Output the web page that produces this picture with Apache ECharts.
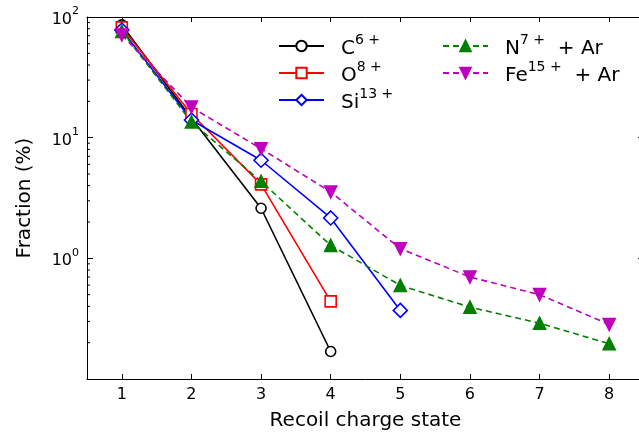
<!DOCTYPE html>
<html>
<head>
<meta charset="utf-8">
<script src="https://cdn.jsdelivr.net/npm/echarts@6/dist/echarts.min.js"></script>
<style>html,body{margin:0;padding:0;background:#fff;overflow:hidden}#c{width:660px;height:439px}</style>
</head>
<body>
<div id="c"></div>
<script>
// ---- data ----
const chargeStates = [1, 2, 3, 4, 5, 6, 7, 8];
const seriesNames = ['C6+', 'O8+', 'Si13+', 'N7+ + Ar', 'Fe15+ + Ar'];
const cVals  = [86, 14.5, 2.6, 0.169];
const oVals  = [82, 15.7, 4.1, 0.44];
const siVals = [78, 14.0, 6.5, 2.16, 0.37];
const nVals  = [76, 13.5, 4.35, 1.28, 0.597, 0.394, 0.29, 0.196];
const feVals = [71, 17.9, 8.1, 3.55, 1.20, 0.70, 0.50, 0.283];
const xTicks = [1, 2, 3, 4, 5, 6, 7, 8];
const yMajorTicks = [0.1, 1, 10, 100];
const yMinorTicks = [0.2,0.3,0.4,0.5,0.6,0.7,0.8,0.9,2,3,4,5,6,7,8,9,20,30,40,50,60,70,80,90];

const FONT = 'DejaVu Sans';
const pairs = vals => vals.map((v, i) => [chargeStates[i], v]);
const legendRich = {
  'C6+': '{m|C}{s|6 +}',
  'O8+': '{m|O}{s|8 +}',
  'Si13+': '{m|Si}{s|13 +}',
  'N7+ + Ar': '{m|N}{s|7 +}{m|  + Ar}',
  'Fe15+ + Ar': '{m|Fe}{s|15 +}{m|  + Ar}'
};
const richStyles = {
  m: {fontSize: 20, fontFamily: FONT, color: '#000', lineHeight: 26, verticalAlign: 'bottom'},
  s: {fontSize: 14, fontFamily: FONT, color: '#000', lineHeight: 26, verticalAlign: 'top'}
};

function lineSeries(name, vals, color, symbol, size, dashed, filled, rotate) {
  return {
    name: name, type: 'line', data: pairs(vals),
    symbol: symbol, symbolSize: size, symbolRotate: rotate || 0,
    showAllSymbol: true,
    lineStyle: {color: color, width: 1.6, type: dashed ? [6, 4] : 'solid'},
    itemStyle: {color: filled ? color : '#fff', borderColor: color, borderWidth: 1.6},
    emphasis: {disabled: true},
    animation: false, clip: false
  };
}

const chart = echarts.init(document.getElementById('c'), null, {renderer: 'canvas'});
const axisLineStyle = {color: '#000', width: 1};
const legendCommon = {
  orient: 'vertical', top: 33, padding: 0,
  itemWidth: 45, itemHeight: 13, itemGap: 1,
  formatter: n => legendRich[n],
  textStyle: {rich: richStyles, padding: [0, 0, 0, 12]},
  selectedMode: false
};
chart.setOption({
  animation: false,
  backgroundColor: '#fff',
  grid: {left: 87, top: 17, width: 557, height: 362, containLabel: false},
  xAxis: [{
    type: 'value', min: 0.5, max: 8.5, position: 'bottom',
    name: 'Recoil charge state', nameLocation: 'middle', nameGap: 32,
    nameTextStyle: {fontSize: 20, fontFamily: FONT, color: '#000'},
    axisLine: {show: true, lineStyle: axisLineStyle},
    axisTick: {show: true, inside: true, length: 5, customValues: xTicks, lineStyle: axisLineStyle},
    axisLabel: {show: true, customValues: xTicks, fontSize: 16, fontFamily: FONT, color: '#000', margin: 8},
    splitLine: {show: false}
  }, {
    type: 'value', min: 0.5, max: 8.5, position: 'top',
    axisLine: {show: true, lineStyle: axisLineStyle},
    axisTick: {show: true, inside: true, length: 5, customValues: xTicks, lineStyle: axisLineStyle},
    axisLabel: {show: false},
    splitLine: {show: false}
  }],
  yAxis: [{
    type: 'log', min: 0.1, max: 100, position: 'left',
    name: 'Fraction (%)', nameLocation: 'middle', nameGap: 52,
    nameTextStyle: {fontSize: 20, fontFamily: FONT, color: '#000'},
    axisLine: {show: true, lineStyle: axisLineStyle},
    axisTick: {show: true, inside: true, length: 6, customValues: yMajorTicks, lineStyle: axisLineStyle},
    axisLabel: {
      show: true, customValues: yMajorTicks, margin: 8,
      formatter: function (v) {
        const e = Math.round(Math.log10(v));
        if (e < 0) return '';
        return '{b|10}{e|' + e + '}';
      },
      rich: {
        b: {fontSize: 16, fontFamily: FONT, color: '#000', lineHeight: 22, verticalAlign: 'bottom'},
        e: {fontSize: 11, fontFamily: FONT, color: '#000', lineHeight: 22, verticalAlign: 'top'}
      }
    },
    splitLine: {show: false}
  }, {
    type: 'log', min: 0.1, max: 100, position: 'right',
    axisLine: {show: true, lineStyle: axisLineStyle},
    axisTick: {show: true, inside: true, length: 6, customValues: yMajorTicks, lineStyle: axisLineStyle},
    axisLabel: {show: false},
    splitLine: {show: false}
  }],
  legend: [
    Object.assign({data: seriesNames.slice(0, 3), left: 278}, legendCommon),
    Object.assign({data: seriesNames.slice(3), left: 442}, legendCommon)
  ],
  series: [
    lineSeries(seriesNames[0], cVals, '#000000', 'circle', 10, false, false),
    lineSeries(seriesNames[1], oVals, '#ff0000', 'rect', 11, false, false),
    lineSeries(seriesNames[2], siVals, '#0000ff', 'diamond', 14, false, false),
    lineSeries(seriesNames[3], nVals, '#008000', 'triangle', 12, true, true),
    lineSeries(seriesNames[4], feVals, '#bf00bf', 'triangle', 12, true, true, 180),
    {
      type: 'custom', silent: true, clip: false, animation: false,
      data: yMinorTicks.map(v => [0.5, v]),
      renderItem: function (params, api) {
        const p = api.coord([api.value(0), api.value(1)]);
        return {type: 'line', shape: {x1: p[0], y1: p[1], x2: p[0] + 3, y2: p[1]},
                style: {stroke: '#000', lineWidth: 1}};
      }
    }
  ]
});
</script>
</body>
</html>
